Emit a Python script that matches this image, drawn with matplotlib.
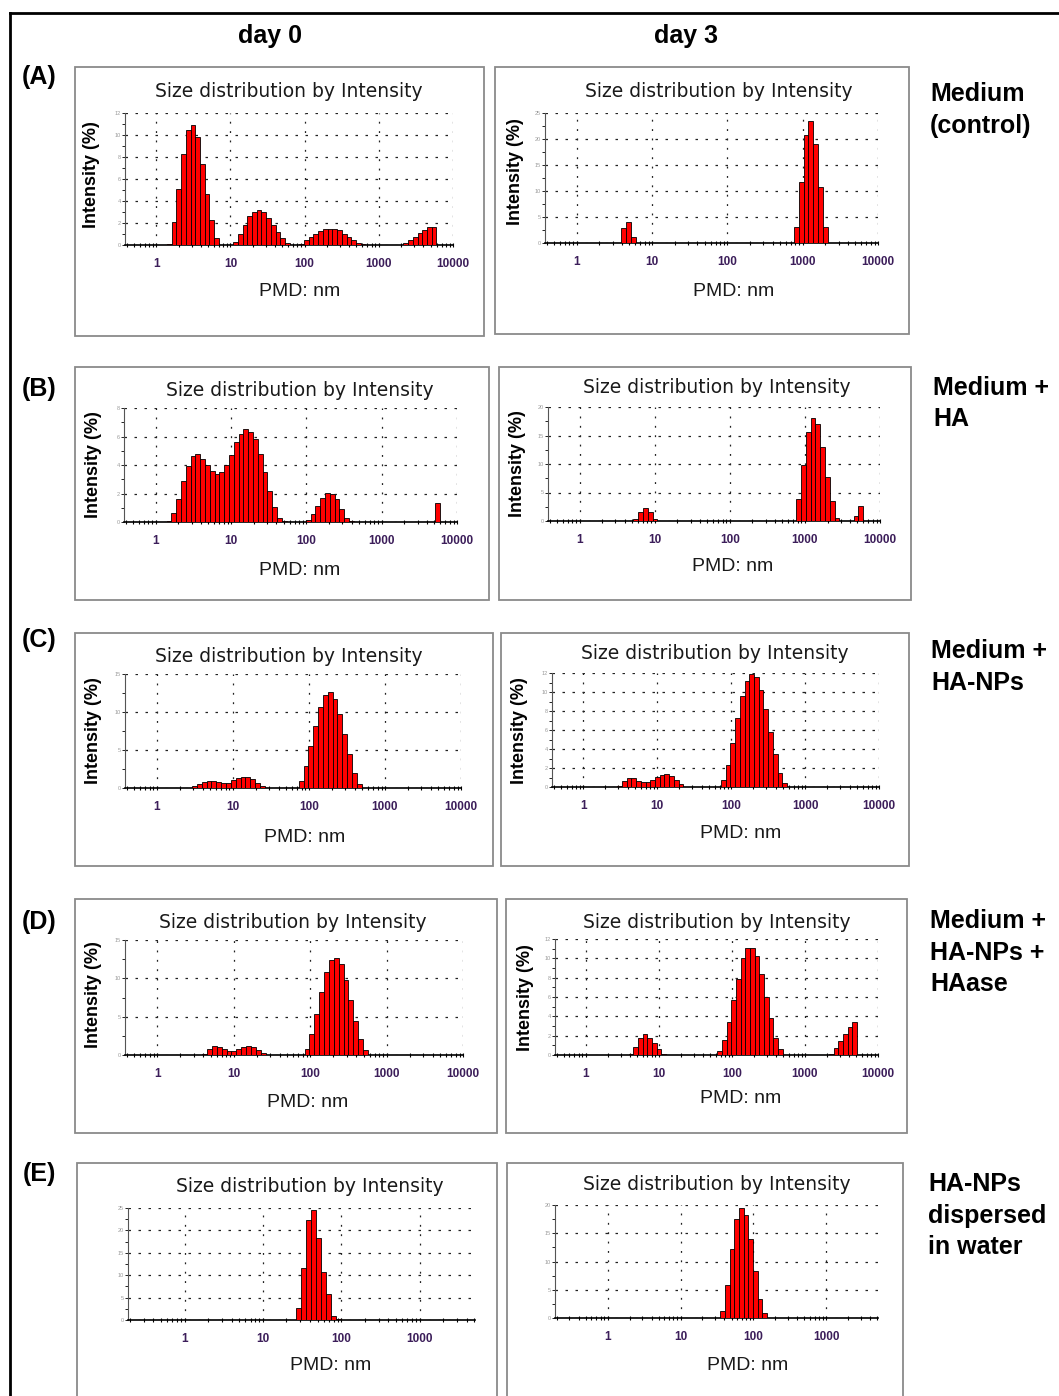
import numpy as np
import matplotlib
matplotlib.use('Agg')
import matplotlib.pyplot as plt
from matplotlib.patches import Rectangle
from matplotlib.lines import Line2D
from matplotlib.ticker import LogLocator, MultipleLocator, NullFormatter

plt.rcParams['font.family'] = ['Liberation Sans', 'DejaVu Sans']

W, H = 1059, 1396
RATIO = 1.1581  # step between Zetasizer size classes

# ---- data: size class (nm) and intensity (%) for each panel ----
a0_size = [1.499, 1.736, 2.01, 2.328, 2.696, 3.122, 3.615, 4.187, 4.849, 5.615, 6.503,
           11.7, 13.54, 15.69, 18.17, 21.04, 24.36, 28.21, 32.67, 37.84, 43.82, 50.75, 58.77,
           91.28, 105.7, 122.4, 141.8, 164.2, 190.1, 220.2, 255.0, 295.3, 342.0, 396.1, 458.7, 531.2, 615.1,
           2305, 2669, 3091, 3580, 4145, 4801, 5560]
a0_int = [0.1, 2.1, 5.1, 8.3, 10.5, 10.9, 9.8, 7.4, 4.6, 2.3, 0.6,
          0.3, 1.0, 1.8, 2.6, 3.0, 3.2, 3.0, 2.5, 1.8, 1.15, 0.6, 0.2,
          0.05, 0.45, 0.7, 1.0, 1.3, 1.5, 1.5, 1.5, 1.4, 1.0, 0.75, 0.45, 0.2, 0.05,
          0.15, 0.45, 0.75, 1.05, 1.4, 1.6, 1.65]

a3_size = [4.187, 4.849, 5.615, 825.0, 955.4, 1106, 1281, 1484, 1718, 1990]
a3_int = [2.8, 4.1, 1.1, 3.1, 11.8, 20.7, 23.4, 19.1, 10.7, 3.1]

b0_size = [1.499, 1.736, 2.01, 2.328, 2.696, 3.122, 3.615, 4.187, 4.849, 5.615, 6.503, 7.531,
           8.721, 10.1, 11.7, 13.54, 15.69, 18.17, 21.04, 24.36, 28.21, 32.67, 37.84, 43.82, 50.75,
           105.7, 122.4, 141.8, 164.2, 190.1, 220.2, 255.0, 295.3, 342.0, 396.1, 5560]
b0_int = [0.05, 0.65, 1.6, 2.9, 3.9, 4.6, 4.75, 4.4, 4.0, 3.6, 3.35, 3.5,
          4.0, 4.7, 5.6, 6.2, 6.5, 6.35, 5.8, 4.8, 3.5, 2.2, 1.05, 0.3, 0.05,
          0.15, 0.55, 1.1, 1.7, 2.05, 2.0, 1.6, 0.9, 0.3, 0.05, 1.35]

b3_size = [5.615, 6.503, 7.531, 8.721, 10.1, 825.0, 955.4, 1106, 1281, 1484, 1718, 1990, 2305, 2669, 4801, 5560]
b3_int = [0.4, 1.6, 2.3, 1.6, 0.3, 3.8, 9.9, 15.6, 18.1, 17.0, 13.0, 7.7, 3.5, 0.5, 0.8, 2.6]

c0_size = [3.122, 3.615, 4.187, 4.849, 5.615, 6.503, 7.531, 8.721, 10.1, 11.7, 13.54, 15.69, 18.17, 21.04, 24.36,
           78.82, 91.28, 105.7, 122.4, 141.8, 164.2, 190.1, 220.2, 255.0, 295.3, 342.0, 396.1, 458.7, 531.2]
c0_int = [0.25, 0.55, 0.85, 0.95, 0.9, 0.8, 0.6, 0.65, 1.0, 1.3, 1.45, 1.5, 1.25, 0.7, 0.25,
          0.95, 2.9, 5.5, 8.2, 10.7, 12.2, 12.65, 11.7, 9.8, 7.1, 4.5, 2.0, 0.55, 0.05]

c3_size = [3.122, 3.615, 4.187, 4.849, 5.615, 6.503, 7.531, 8.721, 10.1, 11.7, 13.54, 15.69, 18.17, 21.04,
           78.82, 91.28, 105.7, 122.4, 141.8, 164.2, 190.1, 220.2, 255.0, 295.3, 342.0, 396.1, 458.7, 531.2]
c3_int = [0.15, 0.6, 0.9, 0.9, 0.65, 0.5, 0.5, 0.75, 1.1, 1.3, 1.4, 1.2, 0.75, 0.3,
          0.7, 2.35, 4.6, 7.25, 9.55, 11.2, 11.9, 11.55, 10.25, 8.25, 5.8, 3.5, 1.5, 0.4]

d0_size = [4.187, 4.849, 5.615, 6.503, 7.531, 8.721, 10.1, 11.7, 13.54, 15.69, 18.17, 21.04, 24.36, 28.21,
           91.28, 105.7, 122.4, 141.8, 164.2, 190.1, 220.2, 255.0, 295.3, 342.0, 396.1, 458.7, 531.2, 615.1]
d0_int = [0.15, 0.8, 1.15, 1.1, 0.8, 0.55, 0.5, 0.75, 1.1, 1.15, 1.1, 0.6, 0.25, 0.05,
          0.8, 2.7, 5.4, 8.25, 10.8, 12.4, 12.7, 11.9, 9.8, 7.2, 4.45, 2.05, 0.6, 0.05]

d3_size = [4.187, 4.849, 5.615, 6.503, 7.531, 8.721, 10.1, 11.7,
           68.06, 78.82, 91.28, 105.7, 122.4, 141.8, 164.2, 190.1, 220.2, 255.0, 295.3, 342.0, 396.1, 458.7,
           2305, 2669, 3091, 3580, 4145, 4801]
d3_int = [0.1, 0.8, 1.8, 2.15, 1.8, 1.2, 0.6, 0.1,
          0.45, 1.55, 3.45, 5.7, 7.9, 10.0, 11.1, 11.1, 10.2, 8.35, 6.05, 3.85, 1.8, 0.6,
          0.15, 0.7, 1.4, 2.15, 2.85, 3.45]

e0_size = [28.21, 32.67, 37.84, 43.82, 50.75, 58.77, 68.06, 78.82, 91.28, 105.7]
e0_int = [2.7, 11.7, 22.4, 24.6, 18.3, 10.7, 5.8, 1.0, 0.3, 0.05]

e3_size = [37.84, 43.82, 50.75, 58.77, 68.06, 78.82, 91.28, 105.7, 122.4, 141.8]
e3_int = [1.2, 5.9, 12.2, 17.5, 19.5, 18.2, 14.0, 8.35, 3.35, 0.9]

x_ticks = [1, 10, 100, 1000, 10000]
x_ticklabels = ['1', '10', '100', '1000', '10000']
row_labels = ['(A)', '(B)', '(C)', '(D)', '(E)']
col_labels = ['day 0', 'day 3']
conditions = [['Medium', '(control)'], ['Medium +', 'HA'], ['Medium +', 'HA-NPs'],
              ['Medium +', 'HA-NPs +', 'HAase'], ['HA-NPs', 'dispersed', 'in water']]

# ---- layout (pixels): data, ymax, ystep, xlim, box, axes(l,t,r,b), title xy, xlabel xy, ylabel xy ----
panels = [
    (a0_size, a0_int, 12, 2, (0.38, 10000), (75, 67, 484, 336), (125, 113, 453, 245), (289, 90), (300, 289), (92, 175)),
    (a3_size, a3_int, 25, 5, (0.38, 10000), (495, 67, 909, 334), (545, 113, 878, 243), (719, 90), (734, 289), (515, 172)),
    (b0_size, b0_int, 8, 2, (0.38, 10000), (75, 367, 489, 600), (124, 408, 457, 522), (300, 389), (300, 568), (94, 465)),
    (b3_size, b3_int, 20, 5, (0.38, 10000), (499, 367, 911, 600), (548, 407, 880, 521), (717, 386), (733, 564), (518, 464)),
    (c0_size, c0_int, 15, 5, (0.38, 10000), (75, 633, 493, 866), (125, 674, 461, 788), (289, 655), (305, 835), (94, 731)),
    (c3_size, c3_int, 12, 2, (0.38, 10000), (501, 633, 909, 866), (552, 673, 879, 787), (715, 652), (741, 831), (519, 731)),
    (d0_size, d0_int, 15, 5, (0.38, 10000), (75, 899, 497, 1133), (125, 940, 463, 1055), (293, 921), (308, 1100), (94, 995)),
    (d3_size, d3_int, 12, 2, (0.38, 10000), (506, 899, 907, 1133), (555, 939, 878, 1055), (717, 921), (741, 1096), (525, 998)),
    (e0_size, e0_int, 25, 5, (0.19, 5100), (77, 1163, 497, 1400), (128, 1208, 475, 1320), (310, 1185), (331, 1363), None),
    (e3_size, e3_int, 20, 5, (0.19, 5100), (507, 1163, 903, 1400), (555, 1205, 878, 1318), (717, 1183), (748, 1363), None),
]

fig = plt.figure(figsize=(W / 100, H / 100), dpi=100)


def fx(x):
    return x / W


def fy(y):
    return 1 - y / H


# outer frame
fig.add_artist(Line2D([fx(10), fx(10)], [fy(13), fy(1400)], color='black', lw=2))
fig.add_artist(Line2D([fx(10), 1.0], [fy(13), fy(13)], color='black', lw=2))

for sizes, ints, ymax, ystep, xlim, box, axb, tpos, xlpos, ylpos in panels:
    bx0, by0, bx1, by1 = box
    fig.add_artist(Rectangle((fx(bx0), fy(by1)), (bx1 - bx0) / W, (by1 - by0) / H,
                             transform=fig.transFigure, fill=False, edgecolor='#8a8a8a', lw=1.3))
    l, t, r, b = axb
    ax = fig.add_axes([fx(l), fy(b), (r - l) / W, (b - t) / H])
    ax.set_xscale('log')
    sizes = np.array(sizes)
    left = sizes / np.sqrt(RATIO)
    ax.bar(left, ints, width=sizes * np.sqrt(RATIO) - left, align='edge',
           color='#ff0000', edgecolor='black', linewidth=0.6, zorder=3)
    ax.set_xlim(*xlim)
    ax.set_ylim(0, ymax)
    ax.patch.set_visible(False)
    for s in ['top', 'right']:
        ax.spines[s].set_visible(False)
    ax.spines['left'].set_color('#555555')
    ax.spines['bottom'].set_linewidth(1.2)

    ax.set_xticks(x_ticks)
    ax.set_xticklabels(x_ticklabels, fontsize=8.5, fontweight='bold', color='#3c1e5a')
    ax.xaxis.set_minor_locator(LogLocator(base=10, subs=np.arange(2, 10)))
    ax.xaxis.set_minor_formatter(NullFormatter())
    ax.tick_params(axis='x', which='both', direction='inout', length=3, width=0.8, pad=8)
    ax.set_xlim(*xlim)

    ax.yaxis.set_major_locator(MultipleLocator(ystep))
    ax.yaxis.set_minor_locator(MultipleLocator(ystep / 2))
    ax.tick_params(axis='y', which='both', length=2, width=0.6, labelsize=4, labelcolor='#9a9a9a', pad=1)

    ax.grid(True, axis='y', which='major', color='#222222', lw=0.9, linestyle=(0, (2, 6)), zorder=0)
    ax.grid(True, axis='x', which='major', color='#222222', lw=0.9, linestyle=(0, (1.5, 6)), zorder=0)

    fig.text(fx(tpos[0]), fy(tpos[1] + 7), 'Size distribution by Intensity', family='DejaVu Sans',
             fontsize=13.5, color='#1a1a1a', ha='center', va='baseline')
    fig.text(fx(xlpos[0]), fy(xlpos[1] + 7), 'PMD: nm', fontsize=14, color='#1a1a1a',
             ha='center', va='baseline')
    if ylpos is not None:
        fig.text(fx(ylpos[0]), fy(ylpos[1]), 'Intensity (%)', fontsize=13, fontweight='bold',
                 rotation=90, ha='center', va='center')

# column headers and row labels
for lab, x in zip(col_labels, [270, 686]):
    fig.text(fx(x), fy(43), lab, fontsize=18, fontweight='bold', ha='center', va='baseline')

for lab, y in zip(row_labels, [75, 387, 638, 920, 1172]):
    fig.text(fx(39), fy(y + 9), lab, fontsize=18, fontweight='bold', ha='center', va='baseline')

for lines, (x, y) in zip(conditions, [(930, 93), (933, 387), (931, 650), (930, 920), (928, 1183)]):
    for k, line in enumerate(lines):
        fig.text(fx(x), fy(y + 8 + k * 31.5), line, fontsize=18, fontweight='bold',
                 ha='left', va='baseline')

fig.savefig('out.png', dpi=100, facecolor='white')
